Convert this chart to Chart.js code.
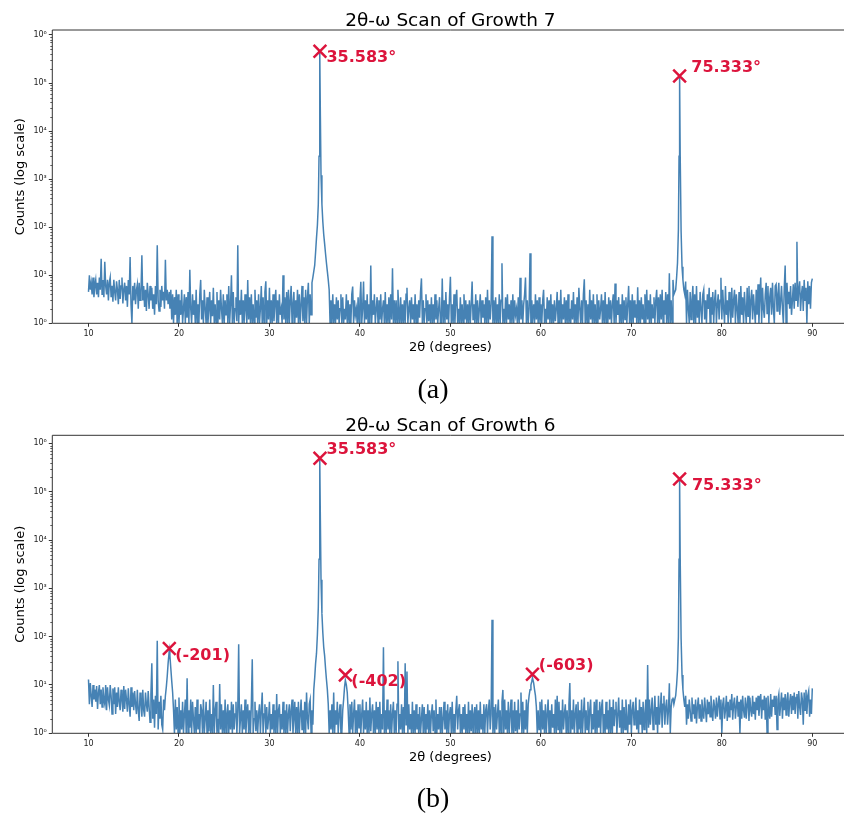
<!DOCTYPE html>
<html>
<head>
<meta charset="utf-8">
<script src="https://cdn.jsdelivr.net/npm/chart.js@4.4.1/dist/chart.umd.min.js"></script>
<style>
  html, body { margin: 0; padding: 0; background: #fff; overflow: hidden; }
  #wrap { position: relative; width: 844px; height: 815px; overflow: hidden; }
  canvas { position: absolute; left: 0; }
  #scanA { top: 0; }
  #scanB { top: 410px; }
</style>
</head>
<body>
<div id="wrap">
  <canvas id="scanA" width="860" height="410"></canvas>
  <canvas id="scanB" width="860" height="405"></canvas>
</div>
<script>
// 2θ sampling shared by both scans (degrees), one row per degree
const twoTheta = [
  10, 10.1, 10.2, 10.3, 10.4, 10.5, 10.6, 10.7, 10.8, 10.9,
  11, 11.1, 11.2, 11.3, 11.4, 11.5, 11.6, 11.7, 11.8, 11.9,
  12, 12.1, 12.2, 12.3, 12.4, 12.5, 12.6, 12.7, 12.8, 12.9,
  13, 13.1, 13.2, 13.3, 13.4, 13.5, 13.6, 13.7, 13.8, 13.9,
  14, 14.1, 14.2, 14.3, 14.4, 14.5, 14.6, 14.7, 14.8, 14.9,
  15, 15.1, 15.2, 15.3, 15.4, 15.5, 15.6, 15.7, 15.8, 15.9,
  16, 16.1, 16.2, 16.3, 16.4, 16.5, 16.6, 16.7, 16.8, 16.9,
  17, 17.1, 17.2, 17.3, 17.4, 17.5, 17.6, 17.7, 17.8, 17.9,
  18, 18.1, 18.2, 18.3, 18.4, 18.5, 18.6, 18.7, 18.8, 18.93,
  19, 19.1, 19.2, 19.3, 19.4, 19.5, 19.6, 19.7, 19.8, 19.9,
  20, 20.1, 20.2, 20.3, 20.4, 20.5, 20.6, 20.7, 20.8, 20.9,
  21, 21.1, 21.2, 21.3, 21.4, 21.5, 21.6, 21.7, 21.8, 21.9,
  22, 22.1, 22.2, 22.3, 22.4, 22.5, 22.6, 22.7, 22.8, 22.9,
  23, 23.1, 23.2, 23.3, 23.4, 23.5, 23.6, 23.7, 23.8, 23.9,
  24, 24.1, 24.2, 24.3, 24.4, 24.5, 24.6, 24.7, 24.8, 24.9,
  25, 25.1, 25.2, 25.3, 25.4, 25.5, 25.6, 25.7, 25.8, 25.9,
  26, 26.1, 26.2, 26.3, 26.4, 26.5, 26.6, 26.7, 26.8, 26.9,
  27, 27.1, 27.2, 27.3, 27.4, 27.5, 27.6, 27.7, 27.8, 27.9,
  28, 28.1, 28.2, 28.3, 28.4, 28.5, 28.6, 28.7, 28.8, 28.9,
  29, 29.1, 29.2, 29.3, 29.4, 29.5, 29.6, 29.7, 29.8, 29.9,
  30, 30.1, 30.2, 30.3, 30.4, 30.5, 30.6, 30.7, 30.8, 30.9,
  31, 31.1, 31.2, 31.3, 31.4, 31.5, 31.6, 31.7, 31.8, 31.9,
  32, 32.1, 32.2, 32.3, 32.4, 32.5, 32.6, 32.7, 32.8, 32.9,
  33, 33.1, 33.2, 33.3, 33.4, 33.5, 33.6, 33.7, 33.8, 33.9,
  34, 34.1, 34.2, 34.3, 34.4, 34.5, 34.6, 34.7, 34.8, 34.9,
  35, 35.1, 35.2, 35.3, 35.4, 35.48, 35.54, 35.583, 35.63, 35.7, 35.8, 35.9,
  36, 36.1, 36.2, 36.3, 36.4, 36.5, 36.6, 36.7, 36.8, 36.9,
  37, 37.1, 37.2, 37.3, 37.4, 37.5, 37.6, 37.7, 37.8, 37.9,
  38, 38.1, 38.2, 38.3, 38.39, 38.5, 38.6, 38.7, 38.8, 38.9,
  39, 39.1, 39.2, 39.3, 39.4, 39.5, 39.6, 39.7, 39.8, 39.9,
  40, 40.1, 40.2, 40.3, 40.4, 40.5, 40.6, 40.7, 40.8, 40.9,
  41, 41.1, 41.2, 41.3, 41.4, 41.5, 41.6, 41.7, 41.8, 41.9,
  42, 42.1, 42.2, 42.3, 42.4, 42.5, 42.6, 42.7, 42.8, 42.9,
  43, 43.1, 43.2, 43.3, 43.4, 43.5, 43.6, 43.7, 43.8, 43.9,
  44, 44.1, 44.2, 44.3, 44.4, 44.5, 44.6, 44.7, 44.8, 44.9,
  45, 45.1, 45.2, 45.3, 45.4, 45.5, 45.6, 45.7, 45.8, 45.9,
  46, 46.1, 46.2, 46.3, 46.4, 46.5, 46.6, 46.7, 46.8, 46.9,
  47, 47.1, 47.2, 47.3, 47.4, 47.5, 47.6, 47.7, 47.8, 47.9,
  48, 48.1, 48.2, 48.3, 48.4, 48.5, 48.6, 48.7, 48.8, 48.9,
  49, 49.1, 49.2, 49.3, 49.4, 49.5, 49.6, 49.7, 49.8, 49.9,
  50, 50.1, 50.2, 50.3, 50.4, 50.5, 50.6, 50.7, 50.8, 50.9,
  51, 51.1, 51.2, 51.3, 51.4, 51.5, 51.6, 51.7, 51.8, 51.9,
  52, 52.1, 52.2, 52.3, 52.4, 52.5, 52.6, 52.7, 52.8, 52.9,
  53, 53.1, 53.2, 53.3, 53.4, 53.5, 53.6, 53.7, 53.8, 53.9,
  54, 54.1, 54.2, 54.3, 54.4, 54.5, 54.6, 54.7, 54.8, 54.9,
  55, 55.1, 55.2, 55.3, 55.4, 55.5, 55.6, 55.7, 55.8, 55.9,
  56, 56.1, 56.2, 56.3, 56.4, 56.5, 56.6, 56.7, 56.8, 56.9,
  57, 57.1, 57.2, 57.3, 57.4, 57.5, 57.6, 57.7, 57.8, 57.9,
  58, 58.1, 58.2, 58.3, 58.4, 58.5, 58.6, 58.7, 58.8, 58.9,
  59, 59.07, 59.2, 59.3, 59.4, 59.5, 59.6, 59.7, 59.8, 59.9,
  60, 60.1, 60.2, 60.3, 60.4, 60.5, 60.6, 60.7, 60.8, 60.9,
  61, 61.1, 61.2, 61.3, 61.4, 61.5, 61.6, 61.7, 61.8, 61.9,
  62, 62.1, 62.2, 62.3, 62.4, 62.5, 62.6, 62.7, 62.8, 62.9,
  63, 63.1, 63.2, 63.3, 63.4, 63.5, 63.6, 63.7, 63.8, 63.9,
  64, 64.1, 64.2, 64.3, 64.4, 64.5, 64.6, 64.7, 64.8, 64.9,
  65, 65.1, 65.2, 65.3, 65.4, 65.5, 65.6, 65.7, 65.8, 65.9,
  66, 66.1, 66.2, 66.3, 66.4, 66.5, 66.6, 66.7, 66.8, 66.9,
  67, 67.1, 67.2, 67.3, 67.4, 67.5, 67.6, 67.7, 67.8, 67.9,
  68, 68.1, 68.2, 68.3, 68.4, 68.5, 68.6, 68.7, 68.8, 68.9,
  69, 69.1, 69.2, 69.3, 69.4, 69.5, 69.6, 69.7, 69.8, 69.9,
  70, 70.1, 70.2, 70.3, 70.4, 70.5, 70.6, 70.7, 70.8, 70.9,
  71, 71.1, 71.2, 71.3, 71.4, 71.5, 71.6, 71.7, 71.8, 71.9,
  72, 72.1, 72.2, 72.3, 72.4, 72.5, 72.6, 72.7, 72.8, 72.9,
  73, 73.1, 73.2, 73.3, 73.4, 73.5, 73.6, 73.7, 73.8, 73.9,
  74, 74.1, 74.2, 74.3, 74.4, 74.5, 74.6, 74.7, 74.8, 74.9,
  75, 75.1, 75.2, 75.27, 75.333, 75.4, 75.5, 75.6, 75.7, 75.8, 75.9,
  76, 76.1, 76.2, 76.3, 76.4, 76.5, 76.6, 76.7, 76.8, 76.9,
  77, 77.1, 77.2, 77.3, 77.4, 77.5, 77.6, 77.7, 77.8, 77.9,
  78, 78.1, 78.2, 78.3, 78.4, 78.5, 78.6, 78.7, 78.8, 78.9,
  79, 79.1, 79.2, 79.3, 79.4, 79.5, 79.6, 79.7, 79.8, 79.9,
  80, 80.1, 80.2, 80.3, 80.4, 80.5, 80.6, 80.7, 80.8, 80.9,
  81, 81.1, 81.2, 81.3, 81.4, 81.5, 81.6, 81.7, 81.8, 81.9,
  82, 82.1, 82.2, 82.3, 82.4, 82.5, 82.6, 82.7, 82.8, 82.9,
  83, 83.1, 83.2, 83.3, 83.4, 83.5, 83.6, 83.7, 83.8, 83.9,
  84, 84.1, 84.2, 84.3, 84.4, 84.5, 84.6, 84.7, 84.8, 84.9,
  85, 85.1, 85.2, 85.3, 85.4, 85.5, 85.6, 85.7, 85.8, 85.9,
  86, 86.1, 86.2, 86.3, 86.4, 86.5, 86.6, 86.7, 86.8, 86.9,
  87, 87.1, 87.2, 87.3, 87.4, 87.5, 87.6, 87.7, 87.8, 87.9,
  88, 88.1, 88.2, 88.3, 88.4, 88.5, 88.6, 88.7, 88.8, 88.9,
  89, 89.1, 89.2, 89.3, 89.4, 89.5, 89.6, 89.7, 89.8, 89.9,
  90
];

// Growth 7 counts, same rows as twoTheta
const countsGrowth7 = [
  4.5, 10, 5, 7, 4, 9, 3.5, 6, 8, 4,
  7, 3.5, 9, 5, 22, 4, 8, 3.5, 19, 6,
  4, 8, 3, 7, 9, 3.5, 6, 2.8, 8, 4.5,
  3, 7.5, 5, 2.5, 8, 3.2, 6, 9, 2.6, 5,
  7, 3, 6, 2.2, 8, 4, 24, 2.5, 1, 6,
  3, 7, 2.5, 5, 6.5, 2, 7, 3, 4.5, 26,
  3, 6, 2.2, 5, 1.8, 7, 4, 2, 6, 3,
  5.5, 2, 4, 1.5, 6, 2.5, 42, 3, 1.8, 5,
  2.2, 6, 3, 4.5, 2, 21, 3, 5, 2.5, 4.5,
  2, 5, 1.2, 4, 1, 3.5, 1.5, 5, 1, 4,
  1, 3, 1.5, 5, 1, 2, 4, 1, 3.5, 1.3,
  4.5, 1, 13, 2, 1, 4, 1.5, 3, 1, 5,
  1, 2.5, 1, 4, 8, 1.2, 3, 1, 5, 2,
  1, 3.5, 1, 2, 4.5, 1, 3, 1.4, 5.5, 1,
  2.5, 1, 4.5, 1, 3, 1.2, 5, 2, 1, 4,
  1, 3, 1.5, 4, 1, 6, 1, 2.5, 10, 1,
  4.5, 1, 2, 3.5, 1.1, 42, 1, 3, 1.5, 5,
  1, 3, 1, 4, 2, 1, 8, 1.2, 3.5, 1,
  4, 1, 2.5, 1, 5, 1.3, 3, 1, 4, 1,
  2, 6, 1, 3.5, 1, 4.5, 7.5, 1, 3, 1.2,
  5.5, 1, 3, 1, 4, 1.1, 2.5, 5, 1, 3,
  1, 4, 1.5, 2, 1, 10, 1.2, 3.5, 1, 4.5,
  1, 5, 1, 3, 6, 1, 2.5, 4.5, 1, 3,
  1.3, 5, 1, 4, 1, 2.5, 6, 1.1, 3.5, 1,
  5, 1, 3.5, 7, 1, 4, 1.5, 7, 9, 12,
  16, 30, 60, 110, 300, 3000, 40000, 460000, 20000, 1200, 300, 130,
  70, 45, 28, 18, 12, 8, 5, 1, 3, 1,
  4, 1, 2.5, 1, 3.5, 1.2, 3, 1, 2, 4,
  1, 3.5, 1, 2, 1.2, 4, 1, 3, 1, 2.5,
  1, 4, 5.8, 1, 3, 1.5, 2, 1, 3.5, 1,
  3, 7.3, 1, 2, 7.4, 1, 3, 1.2, 4, 1,
  2.5, 1, 16, 1, 3, 1.5, 4, 1, 2, 3.5,
  1, 3, 1.2, 4, 1, 2, 3, 1, 4.5, 1,
  2.5, 1, 3.5, 1, 4, 1.2, 14, 1, 3, 1,
  3, 1, 5, 2, 1, 3.5, 1, 2.5, 1, 3,
  1, 4, 5.5, 1, 2, 3, 1, 3.5, 1.2, 2.5,
  1, 4, 1, 2.5, 1, 3, 1.3, 4.5, 8.6, 1,
  3, 1, 2, 4, 1, 3, 1.1, 2.5, 1, 3.5,
  1, 2.5, 1, 4, 1.2, 3, 1, 2, 3.5, 1,
  1, 8.6, 1, 3, 1, 4.5, 1.2, 2.5, 1, 3.5,
  9.3, 1, 2.5, 1, 4, 1, 3, 5, 1, 2,
  1, 3.5, 1, 2.5, 1, 4, 1.2, 3, 1, 2.5,
  1, 3, 1, 2.5, 7.4, 1.2, 2.5, 1, 4, 1,
  3, 1, 2, 4, 1, 3, 1.3, 2.5, 1, 3.5,
  1, 5, 1, 3, 1.2, 2.5, 65, 1, 3, 1,
  3.5, 1, 2.5, 1, 4, 1, 3, 17.7, 1, 2,
  1, 3.5, 1, 4, 1.2, 2.5, 1, 3, 1, 4,
  1, 3, 1.5, 2, 1, 3.5, 1, 8.9, 1.2, 3,
  1, 2.5, 4, 9, 1, 3, 1, 2, 28.6, 1,
  3, 1, 2.5, 1, 4, 1.2, 3, 1, 3.5, 1,
  2.5, 1, 3, 5, 1, 2, 1, 3.5, 1.2, 3,
  1, 4, 1, 2.5, 1, 3, 1.1, 2, 4.5, 1,
  3, 1, 5, 1, 2.5, 1.2, 3.5, 1, 3, 1,
  4, 1, 2, 1, 3, 1.2, 4.5, 1, 2.5, 1,
  3.5, 1, 5.5, 2, 1, 3, 1, 4, 8.2, 1,
  3, 1, 2.5, 1, 5, 1.2, 3, 1, 4, 1,
  2.5, 1, 4, 1, 3, 1.2, 2, 4, 1, 3,
  1, 4.5, 1, 2.5, 1, 3.5, 1.2, 3, 1, 2.5,
  4, 1, 6.7, 1, 3, 1.5, 3.5, 1, 2.5, 1,
  4, 1, 3, 1.2, 3.5, 1, 2.5, 6, 1, 3,
  1, 4, 1, 3, 1.3, 2.5, 1, 5.6, 1, 3,
  1, 3.5, 1.2, 2.5, 1, 4, 1, 5, 1.2, 3,
  1, 4, 1, 2.5, 1.3, 3.5, 1, 3, 5, 1,
  3.5, 1, 4, 1.2, 5, 1, 3, 1.5, 4.5, 1,
  4, 1, 11, 1, 3, 1, 8, 4, 4.5, 5,
  9, 18, 90, 3000, 140000, 3000, 80, 15, 8, 5, 4,
  7.4, 1, 5, 2, 1, 4.5, 1.2, 3, 6, 1,
  4, 1, 6, 1.3, 3, 1, 4.5, 2, 1, 4,
  5, 1.2, 3, 1, 4, 2, 5.5, 1, 3.5, 1.5,
  4.5, 1, 3, 5, 1, 2.5, 4, 1.2, 3, 8.9,
  1.2, 5, 2, 1, 6, 1.5, 3, 1, 4.5, 2,
  1, 5.5, 1.3, 3, 5, 1, 4, 2, 1, 4.5,
  1, 6, 1.5, 3.5, 1, 4.5, 2, 1, 5.5, 1.4,
  6, 1, 3, 5, 1.2, 4, 2, 1, 5, 1.5,
  6.5, 1, 3.5, 9, 1, 5.5, 2, 1.3, 4, 7,
  1.6, 6, 1, 3.5, 5.5, 1.5, 7, 2, 1, 6,
  6.5, 1.8, 4, 7, 1.5, 3, 6, 2, 1, 5.5,
  16, 1, 7, 2.5, 4.5, 2, 6, 1.5, 3, 6.5,
  2, 7, 3, 50, 2.2, 5, 7.5, 1.8, 4, 6,
  1.8, 8, 3, 5.5, 1, 7.5, 2.5, 6, 2, 7,
  8.5
];

// Growth 6 counts, same rows as twoTheta
const countsGrowth6 = [
  13, 4, 11, 6, 3.5, 10, 5, 8, 4.5, 9.5,
  3.2, 7, 10, 4, 8, 3.5, 9, 5, 4, 10,
  3, 9, 5, 3.8, 10, 6, 2.5, 8.5, 4, 9,
  2.5, 7, 3.5, 9, 4.5, 3, 8, 5, 2.8, 9.5,
  3.2, 8, 5, 2.8, 8.5, 4, 2.2, 9, 3.5, 7,
  3, 7.5, 4, 2.5, 8, 3, 1.8, 7, 4.5, 2.2,
  8, 3, 2.2, 7, 4, 2.8, 7.5, 3.5, 1.7, 6.5,
  28, 2, 5, 1.3, 6, 2.5, 82, 1.2, 4.5, 2,
  6, 1.5, 1.2, 5, 3, 6, 9, 15, 28, 52,
  40, 22, 12, 7, 3, 1, 5, 1.2, 3.5, 1,
  5.5, 1, 3, 1.2, 4.5, 1, 2.5, 5, 1, 13.7,
  1, 3, 1.3, 5, 1, 4.5, 2, 1, 3.5, 1,
  5, 1.2, 2.5, 1, 4, 3, 1, 5, 1, 2,
  4.5, 1, 3, 1.1, 5, 1, 2.5, 1, 10, 1,
  3, 4.5, 1, 2, 1, 10.5, 1.2, 4, 1, 3,
  1, 5, 1, 2.5, 4, 1, 3, 1.2, 4.5, 1,
  4, 1.2, 2.5, 4.5, 1, 3, 70, 1, 2, 4,
  1, 3, 1.2, 5, 1, 2.5, 4, 1, 3, 1,
  4, 34, 1, 2, 4.5, 1.1, 3, 1, 2.5, 4,
  1, 3, 7, 1, 2.5, 4, 1, 3.5, 1.2, 2,
  4.5, 1, 2.5, 1.2, 4, 1, 3, 1, 6.5, 1,
  3, 4, 1, 2.5, 1.2, 4.5, 1, 3, 1, 4,
  1, 2.5, 4, 1.1, 3, 5, 1, 2, 4.5, 1,
  3.5, 1, 4.5, 1, 2.5, 5, 1.2, 3, 1, 4.5,
  1, 7, 2, 1.2, 4, 5, 1, 3, 1.5, 8,
  14, 28, 45, 110, 400, 4000, 50000, 490000, 25000, 1500, 300, 120,
  60, 40, 22, 13, 8, 4, 1, 3, 1.2, 4,
  1, 7, 1, 3, 1.5, 4.5, 1, 2.5, 4, 1,
  1, 3, 5, 9, 12.5, 10, 7, 3, 1, 4,
  1.2, 4.5, 1, 2.5, 5, 1, 3, 1, 4, 1.3,
  4, 1, 2.5, 5, 1, 3, 1.2, 4.5, 1, 3,
  1, 5.5, 1.1, 2.5, 4, 1, 3, 1, 4.5, 1.2,
  3.5, 1, 4.5, 1, 2.5, 1.2, 60, 1, 3, 1,
  5, 1.2, 3, 1, 4, 1, 2.5, 4.5, 1, 3,
  1, 4, 31, 1, 2.5, 1.2, 4, 1, 3.5, 1,
  28, 1.5, 19, 1, 4, 1.2, 2.5, 1, 4.5, 1,
  3, 1, 4, 1.2, 2.5, 1, 3.5, 1, 2, 4,
  1, 3.5, 1, 2.5, 1.2, 4, 1, 3, 1, 2.5,
  4, 1.1, 3, 1, 5, 1, 2.5, 1.2, 3.5, 1,
  3.5, 1, 2, 4.5, 1.2, 3, 1, 4, 1, 2.5,
  3.5, 1, 4.5, 1, 2.5, 1, 3, 6, 1.2, 3,
  4, 1, 2.5, 1, 3.5, 1.2, 4, 1, 2.5, 1,
  4.5, 1, 3, 1.1, 4, 1, 2.5, 3.5, 1, 4,
  1, 3, 1, 4.5, 1.2, 2.5, 1, 4, 1, 3,
  4, 1, 3, 5, 1.2, 2.5, 224, 1, 3.5, 1,
  4, 1.2, 2.5, 5, 1, 3, 1, 4.5, 7.9, 1,
  5, 1.2, 3, 1, 4.5, 1, 2.5, 5, 1, 3,
  1, 4.5, 1.1, 3, 1, 5, 1.2, 2.5, 7, 1,
  4.5, 1, 3, 1.2, 5, 1, 4, 6, 8, 10,
  12, 14, 11, 8, 6, 3.5, 1, 3, 1.2, 4.5,
  1, 5, 1.2, 3, 1, 4, 1, 2.5, 5, 1,
  3, 1, 4, 1.3, 2.5, 1, 5, 1, 6, 1.2,
  4.5, 1, 3, 1, 5, 1.2, 2.5, 4, 1, 3,
  1, 4, 11, 1, 3, 1.2, 5, 1, 2.5, 4,
  1, 4.5, 1.2, 3, 1, 5, 1, 2.5, 5.5, 1,
  3, 1.2, 4.5, 1, 3, 5, 1, 2.5, 1.2, 4.5,
  1, 5, 1, 3, 1.3, 4.5, 1, 3.5, 5, 1,
  2.5, 1, 4.5, 1.2, 3, 1, 5, 1, 3.5, 1,
  5, 1.4, 3, 4.5, 1, 2.5, 5.5, 1.3, 3, 1,
  5, 1, 3.5, 1.2, 5, 2, 1, 4, 1.5, 5,
  1, 3, 4.5, 1.5, 2.5, 5.5, 1.2, 3, 1, 5,
  1.5, 3.5, 1, 4.5, 1.2, 2.5, 5, 1, 26, 1.3,
  5, 1.5, 3, 5.5, 1.2, 2.5, 6, 1.5, 3.5, 1,
  6, 1.5, 3, 7, 1.3, 4, 6, 1.5, 3.5, 5,
  1.5, 3, 10.8, 1, 3.5, 5, 5.5, 4, 5, 6,
  10, 20, 100, 4000, 183000, 4000, 90, 16, 8, 5, 3.5,
  6, 1.5, 4, 2, 5, 3, 1.8, 5.5, 2.5, 4,
  2, 5, 1.6, 3.5, 5.5, 2, 4, 1.8, 5, 3,
  2, 5.5, 3, 1.7, 5, 2.5, 4.5, 2.2, 6, 3,
  1.8, 5, 3.5, 2, 5.5, 2.2, 4, 6, 2, 5,
  1, 4, 5.5, 2, 3, 6, 1.8, 4.5, 2.2, 5,
  3, 6.5, 1.9, 4, 5.5, 2, 3.5, 6, 2.2, 4.5,
  1, 5, 2, 6, 3, 2.1, 5.5, 2, 4, 6,
  1.8, 5.5, 3, 2.2, 6, 2.5, 4.5, 1.9, 5.5, 3,
  6, 2.3, 4, 6.5, 2, 5, 3, 6, 1.9, 5.5,
  1, 6, 3, 2, 6.5, 2.2, 5, 3.5, 6, 2.4,
  6, 1.2, 5, 6.5, 2.3, 4, 7, 2, 5.5, 3,
  6.5, 2.4, 5, 7, 2.2, 4.5, 6.5, 2.5, 6, 3,
  7, 2.5, 5.5, 6.5, 2, 7.5, 3.5, 2.4, 7, 5,
  1.5, 7, 3, 8, 2.5, 6, 7.5, 2.2, 5, 2.5,
  8.5
];

// marked peaks
const peaksGrowth7 = [35.583, 75.333];
const peakCountsGrowth7 = [460000, 140000];
const peakLabelsGrowth7 = ['35.583°', '75.333°'];

const peaksGrowth6 = [18.93, 35.583, 38.39, 59.07, 75.333];
const peakCountsGrowth6 = [57, 490000, 16, 16.6, 183000];
const peakLabelsGrowth6 = ['(-201)', '35.583°', '(-402)', '(-603)', '75.333°'];

const xTicks = [10, 20, 30, 40, 50, 60, 70, 80, 90];
const yTicks = [1, 10, 100, 1000, 10000, 100000, 1000000];

if (countsGrowth7.length !== twoTheta.length || countsGrowth6.length !== twoTheta.length) {
  throw new Error('length mismatch ' + twoTheta.length + ' ' + countsGrowth7.length + ' ' + countsGrowth6.length);
}

const sup = ['⁰', '¹', '²', '³', '⁴', '⁵', '⁶'];
const FONT = '"DejaVu Sans", sans-serif';

function decorPlugin(cfg) {
  return {
    id: 'decor',
    afterDraw(chart) {
      const { ctx, chartArea: a, scales } = chart;
      const x = scales.x, y = scales.y;
      ctx.save();

      // spines (right one is off the page)
      ctx.strokeStyle = '#333';
      ctx.lineWidth = 1;
      ctx.beginPath();
      ctx.moveTo(a.right, a.top); ctx.lineTo(a.left, a.top);
      ctx.lineTo(a.left, a.bottom); ctx.lineTo(a.right, a.bottom);
      ctx.stroke();

      // minor log ticks
      ctx.beginPath();
      for (let d = 0; d < 7; d++) {
        for (let m = 2; m < 10; m++) {
          const v = m * Math.pow(10, d);
          if (v > y.max) continue;
          const py = Math.round(y.getPixelForValue(v)) + 0.5;
          ctx.moveTo(a.left - 2, py); ctx.lineTo(a.left, py);
        }
      }
      ctx.lineWidth = 0.8;
      ctx.stroke();

      const cx = (a.left + a.right) / 2;
      ctx.fillStyle = '#000';
      ctx.textAlign = 'center';
      ctx.textBaseline = 'alphabetic';
      ctx.font = '18.5px ' + FONT;
      ctx.fillText(cfg.title, cx, a.top - 4.5);

      ctx.font = '13px ' + FONT;
      ctx.fillText('2θ (degrees)', cx, a.bottom + 28);

      ctx.save();
      ctx.translate(21, (a.top + a.bottom) / 2);
      ctx.rotate(-Math.PI / 2);
      ctx.textBaseline = 'middle';
      ctx.fillText('Counts (log scale)', 0, 0);
      ctx.restore();

      // peak annotations
      ctx.font = 'bold 16px ' + FONT;
      ctx.fillStyle = '#dc143c';
      ctx.textAlign = 'left';
      cfg.labels.forEach((t, i) => {
        const px = x.getPixelForValue(cfg.peaks[i]);
        const py = y.getPixelForValue(cfg.counts[i]);
        ctx.fillText(t, px + cfg.offsets[i][0], py + cfg.offsets[i][1] + 5.8);
      });

      // sub-figure caption
      ctx.fillStyle = '#000';
      ctx.textAlign = 'center';
      ctx.font = '28px "Liberation Serif", serif';
      ctx.fillText(cfg.caption, 433, cfg.captionY);
      ctx.restore();
    }
  };
}

function makeChart(id, counts, cfg) {
  const points = twoTheta.map((t, i) => ({ x: t, y: counts[i] }));
  const marks = cfg.peaks.map((p, i) => ({ x: p, y: cfg.counts[i] }));
  return new Chart(document.getElementById(id), {
    type: 'line',
    data: {
      datasets: [
        {
          data: marks, showLine: false, pointStyle: 'crossRot', pointRadius: 9,
          pointBorderColor: '#dc143c', pointBackgroundColor: '#dc143c', pointBorderWidth: 2.5,
          order: 0
        },
        {
          data: points, borderColor: '#4682b4', borderWidth: 1.5, pointRadius: 0,
          tension: 0, order: 1
        }
      ]
    },
    options: {
      responsive: false,
      animation: false,
      layout: { padding: { top: cfg.padTop, bottom: cfg.padBottom, left: 0, right: 9.4 } },
      plugins: { legend: { display: false }, tooltip: { enabled: false } },
      scales: {
        x: {
          type: 'linear', min: 6, max: 94,
          afterBuildTicks: s => { s.ticks = xTicks.map(v => ({ value: v })); },
          afterFit: s => { s.height = 36.7; },
          ticks: { autoSkip: false, maxRotation: 0, padding: 2, color: '#222', font: { family: FONT, size: 8 } },
          grid: { drawOnChartArea: false, drawTicks: true, tickLength: 3.5, color: '#333' },
          border: { display: false }
        },
        y: {
          type: 'logarithmic', min: 1, max: cfg.yMax,
          afterBuildTicks: s => { s.ticks = yTicks.map(v => ({ value: v, major: true })); },
          afterFit: s => { s.width = 52.3; },
          ticks: {
            autoSkip: false, padding: 2, color: '#222', font: { family: FONT, size: 8 },
            callback: v => '10' + sup[Math.round(Math.log10(v))]
          },
          grid: { drawOnChartArea: false, drawTicks: true, tickLength: 3.5, color: '#333' },
          border: { display: false }
        }
      }
    },
    plugins: [decorPlugin(cfg)]
  });
}

makeChart('scanA', countsGrowth7, {
  title: '2θ-ω Scan of Growth 7',
  peaks: peaksGrowth7, counts: peakCountsGrowth7, labels: peakLabelsGrowth7,
  offsets: [[6.5, 5], [11.7, -10]],
  yMax: 1.27e6, padTop: 30, padBottom: 50,
  caption: '(a)', captionY: 398
});

makeChart('scanB', countsGrowth6, {
  title: '2θ-ω Scan of Growth 6',
  peaks: peaksGrowth6, counts: peakCountsGrowth6, labels: peakLabelsGrowth6,
  offsets: [[6, 5.4], [6.6, -10], [6, 5.3], [6.4, -9.8], [12.3, 4.7]],
  yMax: 1.47e6, padTop: 25.3, padBottom: 45,
  caption: '(b)', captionY: 397.4
});
</script>
</body>
</html>
